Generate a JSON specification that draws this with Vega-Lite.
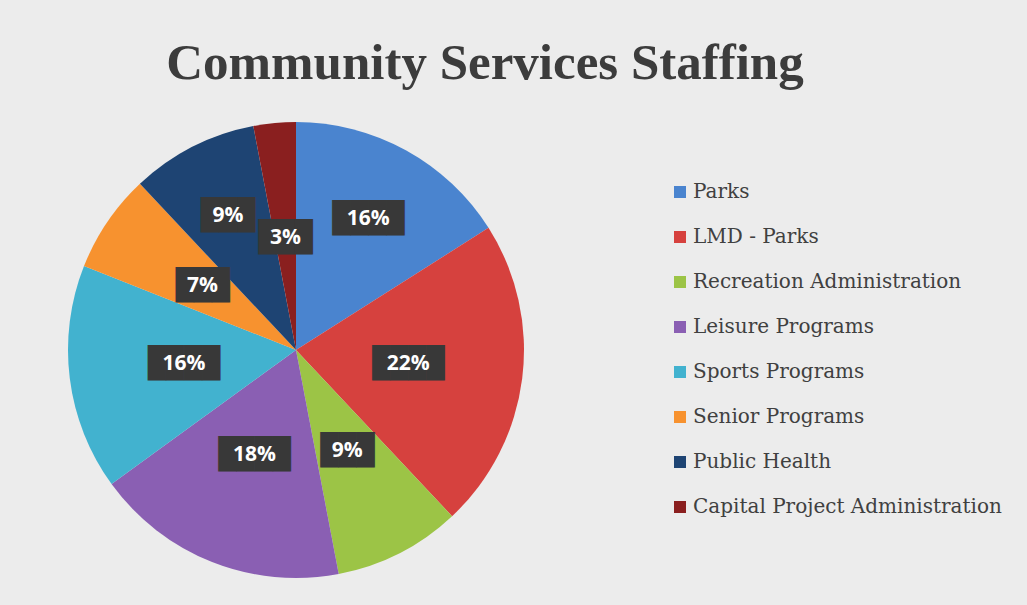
{
  "$schema": "https://vega.github.io/schema/vega-lite/v6.json",
  "width": 460,
  "height": 460,
  "autosize": {"type": "none"},
  "padding": {"left": 66, "top": 120, "right": 501, "bottom": 25},
  "background": "#ececec",
  "title": {
    "text": "Community Services Staffing",
    "font": "Liberation Serif",
    "fontSize": 51,
    "fontWeight": "bold",
    "color": "#3c3c3c",
    "anchor": "middle",
    "dx": 189,
    "offset": 30
  },
  "data": {
    "values": [
      {"order": 1, "category": "Parks", "value": 16, "label": "16%"},
      {"order": 2, "category": "LMD - Parks", "value": 22, "label": "22%"},
      {"order": 3, "category": "Recreation Administration", "value": 9, "label": "9%"},
      {"order": 4, "category": "Leisure Programs", "value": 18, "label": "18%"},
      {"order": 5, "category": "Sports Programs", "value": 16, "label": "16%"},
      {"order": 6, "category": "Senior Programs", "value": 7, "label": "7%"},
      {"order": 7, "category": "Public Health", "value": 9, "label": "9%"},
      {"order": 8, "category": "Capital Project Administration", "value": 3, "label": "3%"}
    ]
  },
  "transform": [
    {"stack": "value", "groupby": [], "sort": [{"field": "order", "order": "ascending"}], "as": ["v0", "v1"]},
    {"calculate": "(datum.v0 + datum.v1) / 2", "as": "mid"},
    {"calculate": "datum.value >= 10 ? '\u2588\u2588\u2588\u2588' : '\u2588\u2588\u2588'", "as": "box"}
  ],
  "layer": [
    {
      "mark": {"type": "arc", "outerRadius": 228},
      "encoding": {
        "theta": {"field": "v0", "type": "quantitative", "scale": {"domain": [0, 100], "range": [0, 6.283185]}},
        "theta2": {"field": "v1"},
        "color": {
          "field": "category",
          "type": "nominal",
          "sort": null,
          "scale": {
            "domain": ["Parks", "LMD - Parks", "Recreation Administration", "Leisure Programs", "Sports Programs", "Senior Programs", "Public Health", "Capital Project Administration"],
            "range": ["#4a84cf", "#d6413e", "#9cc446", "#8a5fb3", "#42b2cf", "#f7922f", "#1e4473", "#8a1f1f"]
          },
          "legend": {
            "orient": "none",
            "legendX": 604,
            "legendY": 62,
            "title": null,
            "symbolType": "square",
            "symbolSize": 144,
            "symbolStrokeWidth": 0,
            "labelFont": "DejaVu Serif",
            "labelFontSize": 20,
            "labelColor": "#404040",
            "labelOffset": 3,
            "rowPadding": 25,
            "labelLimit": 400
          }
        }
      }
    },
    {
      "transform": [{"filter": "datum.category !== 'Parks' && datum.category !== 'Public Health'"}],
      "layer": [
        {
          "mark": {"type": "text", "radius": 113, "font": "DejaVu Sans Mono", "fontSize": 30, "color": "#383838", "align": "center", "baseline": "middle"},
          "encoding": {
            "theta": {"field": "mid", "type": "quantitative", "scale": {"domain": [0, 100], "range": [0, 6.283185]}},
            "text": {"field": "box"}
          }
        },
        {
          "mark": {"type": "text", "radius": 113, "font": "Open Sans", "fontWeight": "bold", "fontSize": 21, "color": "#ffffff", "align": "center", "baseline": "middle"},
          "encoding": {
            "theta": {"field": "mid", "type": "quantitative", "scale": {"domain": [0, 100], "range": [0, 6.283185]}},
            "text": {"field": "label"}
          }
        }
      ]
    },
    {
      "transform": [{"filter": "datum.category === 'Parks' || datum.category === 'Public Health'"}],
      "layer": [
        {
          "mark": {"type": "text", "radius": 150, "font": "DejaVu Sans Mono", "fontSize": 30, "color": "#383838", "align": "center", "baseline": "middle"},
          "encoding": {
            "theta": {"field": "mid", "type": "quantitative", "scale": {"domain": [0, 100], "range": [0, 6.283185]}},
            "text": {"field": "box"}
          }
        },
        {
          "mark": {"type": "text", "radius": 150, "font": "Open Sans", "fontWeight": "bold", "fontSize": 21, "color": "#ffffff", "align": "center", "baseline": "middle"},
          "encoding": {
            "theta": {"field": "mid", "type": "quantitative", "scale": {"domain": [0, 100], "range": [0, 6.283185]}},
            "text": {"field": "label"}
          }
        }
      ]
    }
  ],
  "config": {"view": {"stroke": null}}
}
